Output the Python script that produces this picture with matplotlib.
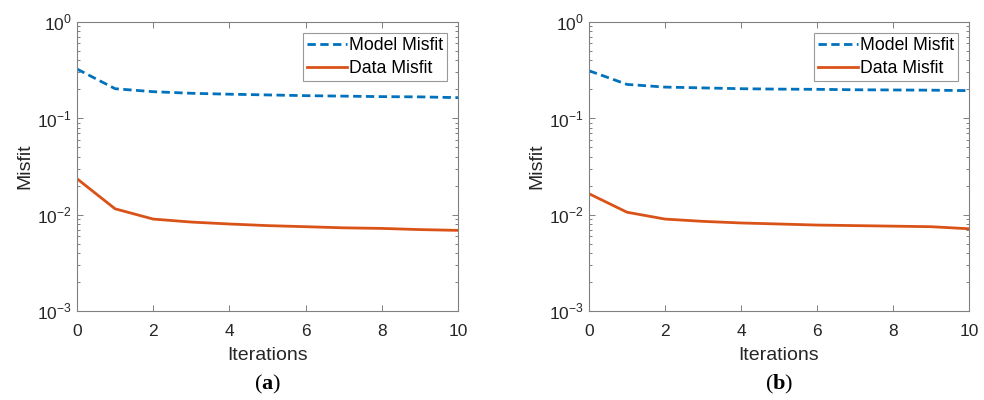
import numpy as np
import matplotlib.pyplot as plt

plt.rcParams['font.family'] = ['Liberation Sans', 'DejaVu Sans']
plt.rcParams['mathtext.fontset'] = 'custom'
plt.rcParams['mathtext.rm'] = 'Liberation Sans'
plt.rcParams['mathtext.bf'] = 'Liberation Serif:bold'

# data
iterations = np.arange(0, 11)

model_a = [0.325, 0.203, 0.189, 0.182, 0.178, 0.175, 0.172, 0.170, 0.168, 0.167, 0.164]
data_a = [0.0236, 0.0115, 0.0090, 0.00838, 0.0080, 0.0077, 0.0075, 0.0073, 0.0072, 0.0070, 0.00687]

model_b = [0.312, 0.225, 0.211, 0.207, 0.203, 0.201, 0.200, 0.198, 0.197, 0.196, 0.194]
data_b = [0.0165, 0.0106, 0.0090, 0.00852, 0.0082, 0.0080, 0.0078, 0.0077, 0.0076, 0.0075, 0.00714]

panel_labels = ['a', 'b']
blue = '#0072BD'
orange = '#D95319'
axis_gray = '#808080'
text_gray = '#262626'

fig = plt.figure(figsize=(9.84, 4.0), dpi=100)
ax1 = fig.add_axes([77 / 984, 1 - 311 / 400, 381 / 984, 289 / 400])
ax2 = fig.add_axes([589 / 984, 1 - 311 / 400, 380 / 984, 289 / 400])

for ax, model, data, lab in [(ax1, model_a, data_a, 'a'), (ax2, model_b, data_b, 'b')]:
    ax.plot(iterations, model, '--', color=blue, lw=2.0, dashes=(3.0, 1.6), label='Model Misfit')
    ax.plot(iterations, data, '-', color=orange, lw=2.0, label='Data Misfit')
    ax.set_yscale('log')
    ax.set_xlim(0, 10)
    ax.set_ylim(1e-3, 1)
    ax.set_xticks([0, 2, 4, 6, 8, 10])
    ax.set_yticks([1e-3, 1e-2, 1e-1, 1])
    ax.set_yticklabels([r'$10^{-3}$', r'$10^{-2}$', r'$10^{-1}$', r'$10^{0}$'])
    ax.tick_params(which='both', direction='in', top=True, right=True,
                   colors=axis_gray, labelcolor=text_gray, labelsize=12.5)
    ax.tick_params(which='major', length=4, width=0.7)
    ax.tick_params(which='minor', length=2.5, width=0.7)
    ax.tick_params(axis='x', pad=9)
    ax.tick_params(axis='y', pad=4)
    for s in ax.spines.values():
        s.set_color(axis_gray)
        s.set_linewidth(0.8)
    ax.set_xlabel('Iterations', fontsize=14, color=text_gray, labelpad=6)
    ax.set_ylabel('Misfit', fontsize=14, color=text_gray, labelpad=2)
    leg = ax.legend(loc='upper right', fontsize=12.7, frameon=True, fancybox=False,
                    borderaxespad=0.65, handlelength=2.3, handletextpad=0.1,
                    borderpad=0.2, labelspacing=0.35)
    leg.get_frame().set_edgecolor(axis_gray)
    leg.get_frame().set_linewidth(0.8)
    for t in leg.get_texts():
        t.set_color('black')
    ax.text(0.5, -0.255, r'($\mathbf{' + lab + '}$)', transform=ax.transAxes,
            ha='center', va='center', fontsize=16, family='Liberation Serif')

fig.savefig('out.png', dpi=100)
